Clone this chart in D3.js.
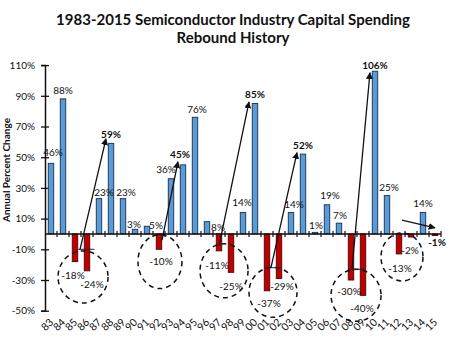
<!DOCTYPE html>
<html>
<head>
<meta charset="utf-8">
<script src="https://cdn.jsdelivr.net/npm/d3@7"></script>
<style>
  body { margin: 0; background: #fff; }
  svg { display: block; }
  text { font-family: "Lato", "Liberation Sans", sans-serif; fill: #111; }
</style>
</head>
<body>
<div id="chart"></div>
<script>
// capital spending change per year, in percent
var years = ["83","84","85","86","87","88","89","90","91","92","93","94","95","96","97","98","99",
             "00","01","02","03","04","05","06","07","08","09","10","11","12","13","14","15"];
var changes = [46, 88, -18, -24, 23, 59, 23, 3, 5, -10, 36, 45, 76, 8, -11, -25, 14,
               85, -37, -29, 14, 52, 1, 19, 7, -30, -40, 106, 25, -13, -2, 14, -1];
var yTicks = [-50, -30, -10, 10, 30, 50, 70, 90, 110];

// rebound peaks get bold labels
var peakYears = ["88", "94", "00", "04", "10", "15"];

// rebound arrows: from trough (year, band offset, value) to peak
var arrowFrom = [["86", -0.58, -10], ["92", 0.25, -4], ["97", 0.0, -8], ["01", 0.33, -22], ["08", 0.08, -23], ["12", 0.25, 9]];
var arrowTo   = [["88", -0.42, 62],  ["94", -0.42, 47], ["00", -0.5, 86], ["04", -0.5, 53],  ["10", -0.42, 105], ["15", 0.0, 4]];

// short flat marks where some arrows leave the trough
var troughMarks = [["86", -0.05, -10], ["01", 0.5, -22], ["08", 0.42, -23]];

// downturn rings: centre (year, band offset, value)
var rings = [["86", -0.33, -28], ["92", 0.08, -18], ["97", 0.42, -24], ["01", 0.5, -38], ["08", 0.42, -40], ["12", 0.25, -15]];

// hand placement of a few value labels
var labelNudge = {
  "83": [2, -2], "85": [-2, 1], "86": [5, 1], "87": [5, 2], "89": [3, 2], "90": [-1, 4],
  "91": [9, 8], "92": [2, 0], "93": [-5, -1], "94": [-3, -2], "95": [2, 1], "96": [11, 14],
  "97": [-2, 2], "98": [0, 2], "99": [-1, -1], "01": [2, 0], "02": [3, -4], "03": [3, 1],
  "05": [1, 2], "06": [3, -1], "07": [1, 1], "08": [-2, -1], "09": [-1, 1], "10": [0, 3],
  "11": [2, 0], "12": [1, 2], "13": [-1, 1], "15": [2, -5]
};
var ringSize = [[25, 26], [22, 27], [24, 27], [24, 25], [25, 26], [21, 24]];

var svgWidth = 450;
var svgHeight = 342;

var svg = d3.select("#chart")
  .append("svg")
  .attr("width", svgWidth)
  .attr("height", svgHeight);

var data = years.map(function(y, i) { return { year: y, value: changes[i] }; });

var x = d3.scaleBand()
  .domain(years)
  .range([45, 441])
  .paddingInner(0.55)
  .paddingOuter(0.275);

var y = d3.scaleLinear()
  .domain([-50, 110])
  .range([310.7, 65.1]);

var step = x.step();
function xAt(year, off) { return x(year) + x.bandwidth() / 2 + off * step; }

// title
svg.append("text")
  .attr("x", 233).attr("y", 25)
  .attr("text-anchor", "middle")
  .style("font-size", "15px").style("font-weight", "bold")
  .text("1983-2015 Semiconductor Industry Capital Spending");
svg.append("text")
  .attr("x", 233).attr("y", 43)
  .attr("text-anchor", "middle")
  .style("font-size", "15px").style("font-weight", "bold")
  .text("Rebound History");

// y axis
var yAxis = svg.append("g")
  .attr("transform", "translate(45,0)")
  .call(d3.axisLeft(y).tickValues(yTicks).tickFormat(function(d) { return d + "%"; }).tickSize(4).tickPadding(6));
yAxis.select(".domain").attr("stroke", "#111").attr("stroke-width", 1.5);
yAxis.selectAll(".tick line").attr("x1", 4).attr("stroke", "#111").attr("stroke-width", 1.3);
yAxis.selectAll("text").style("font-size", "10px").style("font-family", "Lato, sans-serif").attr("fill", "#222");

svg.append("text")
  .attr("transform", "translate(10,170) rotate(-90)")
  .attr("text-anchor", "middle")
  .style("font-size", "10px").style("font-weight", "bold")
  .text("Annual Percent Change");

// bars
svg.selectAll("rect.bar")
  .data(data)
  .enter()
  .append("rect")
  .attr("class", "bar")
  .attr("x", function(d) { return x(d.year); })
  .attr("width", x.bandwidth())
  .attr("y", function(d) { return y(Math.max(0, d.value)); })
  .attr("height", function(d) { return Math.abs(y(d.value) - y(0)); })
  .attr("fill", function(d) { return d.value >= 0 ? "#5b9bd5" : "#c00000"; })
  .attr("stroke", function(d) { return d.value >= 0 ? "#1f3b63" : "#5a0a0a"; })
  .attr("stroke-width", 1);

// x axis at zero with crossing ticks on band edges
svg.append("line")
  .attr("x1", 45).attr("x2", 441)
  .attr("y1", y(0)).attr("y2", y(0))
  .attr("stroke", "#111").attr("stroke-width", 1.5);

svg.selectAll("line.xtick")
  .data(years)
  .enter()
  .append("line")
  .attr("class", "xtick")
  .attr("x1", function(d) { return xAt(d, 0.5); })
  .attr("x2", function(d) { return xAt(d, 0.5); })
  .attr("y1", y(0) - 3).attr("y2", y(0) + 3)
  .attr("stroke", "#111").attr("stroke-width", 1.2);

// year labels along the bottom
svg.selectAll("text.year")
  .data(years)
  .enter()
  .append("text")
  .attr("class", "year")
  .attr("text-anchor", "end")
  .attr("transform", function(d) { return "translate(" + (xAt(d, 0) + 3) + ",323) rotate(-45)"; })
  .style("font-size", "10.5px")
  .text(function(d) { return d; });

// value labels
svg.selectAll("text.value")
  .data(data)
  .enter()
  .append("text")
  .attr("class", "value")
  .attr("text-anchor", "middle")
  .attr("x", function(d) { return xAt(d.year, 0) + (labelNudge[d.year] ? labelNudge[d.year][0] : 0); })
  .attr("y", function(d) {
    var base = d.value >= 0 ? y(d.value) - 5 : y(d.value) + 16;
    return base + (labelNudge[d.year] ? labelNudge[d.year][1] : 0);
  })
  .style("font-size", "10px")
  .style("font-weight", function(d) { return peakYears.indexOf(d.year) >= 0 ? "bold" : "normal"; })
  .text(function(d) { return d.value + "%"; });

// dashed rings round the downturns
svg.selectAll("ellipse.ring")
  .data(rings)
  .enter()
  .append("ellipse")
  .attr("class", "ring")
  .attr("cx", function(d) { return xAt(d[0], d[1]); })
  .attr("cy", function(d) { return y(d[2]); })
  .attr("rx", function(d, i) { return ringSize[i][0]; })
  .attr("ry", function(d, i) { return ringSize[i][1]; })
  .attr("fill", "none")
  .attr("stroke", "#111")
  .attr("stroke-width", 1.5)
  .attr("stroke-dasharray", "5,4");

// trough marks
svg.selectAll("line.trough")
  .data(troughMarks)
  .enter()
  .append("line")
  .attr("class", "trough")
  .attr("x1", function(d) { return xAt(d[0], d[1]) - 8; })
  .attr("x2", function(d) { return xAt(d[0], d[1]) + 8; })
  .attr("y1", function(d) { return y(d[2]); })
  .attr("y2", function(d) { return y(d[2]); })
  .attr("stroke", "#222")
  .attr("stroke-width", 1);

// arrows
svg.append("defs").append("marker")
  .attr("id", "head")
  .attr("viewBox", "0 0 10 10")
  .attr("refX", 9).attr("refY", 5)
  .attr("markerWidth", 7).attr("markerHeight", 7)
  .attr("markerUnits", "userSpaceOnUse")
  .attr("orient", "auto")
  .append("path")
  .attr("d", "M0,0L10,5L0,10z")
  .attr("fill", "#111");

svg.selectAll("line.arrow")
  .data(arrowFrom)
  .enter()
  .append("line")
  .attr("class", "arrow")
  .attr("x1", function(d) { return xAt(d[0], d[1]); })
  .attr("y1", function(d) { return y(d[2]); })
  .attr("x2", function(d, i) { return xAt(arrowTo[i][0], arrowTo[i][1]); })
  .attr("y2", function(d, i) { return y(arrowTo[i][2]); })
  .attr("stroke", "#111")
  .attr("stroke-width", 1.3)
  .attr("marker-end", "url(#head)");
</script>
</body>
</html>
